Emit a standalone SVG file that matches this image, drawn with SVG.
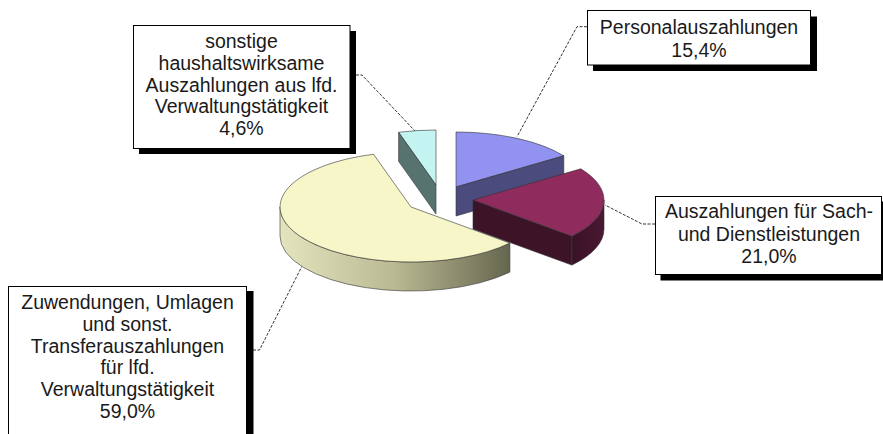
<svg xmlns="http://www.w3.org/2000/svg" width="883" height="434" viewBox="0 0 883 434">
<defs>
<linearGradient id="gYel" gradientUnits="userSpaceOnUse" x1="280" y1="0" x2="510" y2="0">
<stop offset="0" stop-color="#e4e4bf"/>
<stop offset="0.5" stop-color="#b9b993"/>
<stop offset="1" stop-color="#66664f"/>
</linearGradient>
<linearGradient id="gRed" gradientUnits="userSpaceOnUse" x1="572" y1="0" x2="604" y2="0">
<stop offset="0" stop-color="#3a1126"/>
<stop offset="1" stop-color="#4a1832"/>
</linearGradient>
</defs>
<style>
.edge{stroke:#333;stroke-width:0.6;stroke-linejoin:round}
.box{fill:#fff;stroke:#000;stroke-width:1}
.shadow{fill:#000}
.lbl{font-family:"Liberation Sans",Arial,sans-serif;font-size:19.5px;fill:#1a1a1a;text-anchor:middle}
.conn{fill:none;stroke:#333;stroke-width:1;stroke-dasharray:3,1.5}
</style>
<rect width="883" height="434" fill="#fff"/>

<g id="connectors">
<path class="conn" d="M356,75 L362,75 L415,131"/>
<path class="conn" d="M587,26.7 L577,26.7 L517,136.7"/>
<path class="conn" d="M655,224 L642,224 L605,205"/>
<path class="conn" d="M253,350 L259.5,350 L301.7,266.7"/>
</g>

<g id="slice-sonstige">
<path class="edge" fill="#c3f4f2" d="M436,185 L398.6,132.3 A131,55 0 0 1 436,130 Z"/>
<path class="edge" fill="#577370" d="M436,185 L398.6,132.3 L398.6,161.3 L436,214 Z"/>
</g>

<g id="slice-personal">
<path class="edge" fill="#9292f0" d="M456,187 L456,132 A131,55 0 0 1 563.8,155.8 Z"/>
<path class="edge" fill="#4b4b7e" d="M456,187 L563.8,155.8 L563.8,184.8 L456,216 Z"/>
</g>

<g id="slice-zuwendungen">
<path class="edge" fill="url(#gYel)" d="M509.9,243.1 A131,55 0 0 1 280,207 L280,236 A131,55 0 0 0 509.9,272.1 Z"/>
<path class="edge" fill="#f7f6c8" d="M411,207 L509.9,243.1 A131,55 0 1 1 373.6,154.3 Z"/>
</g>

<g id="slice-sach">
<path class="edge" fill="url(#gRed)" d="M604,200 A131,55 0 0 1 571.9,236.1 L571.9,265.1 A131,55 0 0 0 604,229 Z"/>
<path class="edge" fill="#3d1328" d="M473,200 L571.9,236.1 L571.9,265.1 L473,229 Z"/>
<path class="edge" fill="#8f2b5d" d="M473,200 L580.8,168.8 A131,55 0 0 1 571.9,236.1 Z"/>
</g>

<g id="label-sonstige">
<rect class="shadow" x="139" y="31" width="217" height="123"/>
<rect class="box" x="133.5" y="25.5" width="216.5" height="123"/>
<text class="lbl" x="241.5" y="48.3">sonstige</text>
<text class="lbl" x="241.5" y="69.8">haushaltswirksame</text>
<text class="lbl" x="241.5" y="91.5">Auszahlungen aus lfd.</text>
<text class="lbl" x="241.5" y="113">Verwaltungstätigkeit</text>
<text class="lbl" x="241.5" y="134.8">4,6%</text>
</g>

<g id="label-personal">
<rect class="shadow" x="593" y="16.5" width="224" height="54.5"/>
<rect class="box" x="587.5" y="10.5" width="223" height="54.5"/>
<text class="lbl" x="699" y="34.3">Personalauszahlungen</text>
<text class="lbl" x="699" y="56.5">15,4%</text>
</g>

<g id="label-sach">
<rect class="shadow" x="660.5" y="201.5" width="230" height="79"/>
<rect class="box" x="655.5" y="196.5" width="226" height="78"/>
<text class="lbl" x="769" y="218.3">Auszahlungen für Sach-</text>
<text class="lbl" x="769" y="240.5">und Dienstleistungen</text>
<text class="lbl" x="769" y="263">21,0%</text>
</g>

<g id="label-zuwendungen">
<rect class="shadow" x="14" y="291" width="239.5" height="160"/>
<rect class="box" x="8.5" y="286.5" width="238" height="160"/>
<text class="lbl" x="127.5" y="309.3">Zuwendungen, Umlagen</text>
<text class="lbl" x="127.5" y="330.8">und sonst.</text>
<text class="lbl" x="127.5" y="352.6">Transferauszahlungen</text>
<text class="lbl" x="127.5" y="374.3">für lfd.</text>
<text class="lbl" x="127.5" y="396.1">Verwaltungstätigkeit</text>
<text class="lbl" x="127.5" y="418">59,0%</text>
</g>
</svg>
